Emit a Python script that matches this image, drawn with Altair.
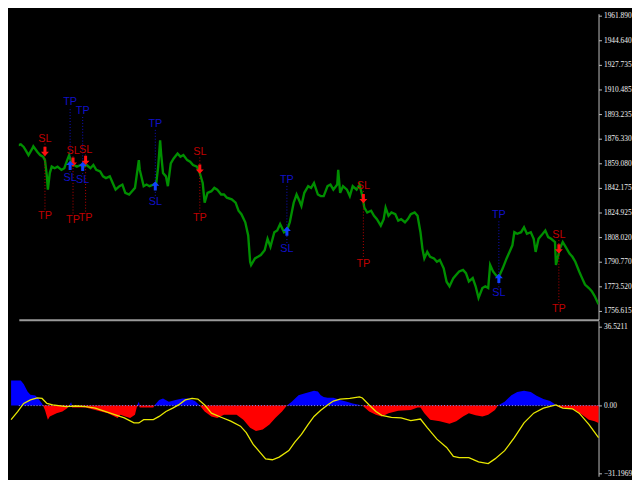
import altair as alt
import pandas as pd

# ---------------- price series (bar index, close) ----------------
bar_x = [0, 3, 7, 10, 13, 15, 18, 22, 23, 27, 30, 33, 35, 37, 38, 40, 42, 45, 48, 52,
         55, 58, 60, 62, 65, 68, 72, 75, 78, 82, 85, 88, 92, 95, 98, 102, 105, 108, 112, 115,
         118, 122, 125, 128, 132, 133, 137, 140, 143, 147, 150, 152, 154, 155, 157, 160, 162, 165, 168, 172,
         175, 178, 182, 185, 188, 192, 195, 198, 200, 203, 207, 210, 213, 217, 220, 223, 228, 232, 235, 238,
         242, 245, 247, 248, 252, 255, 258, 262, 265, 268, 272, 275, 278, 282, 285, 288, 292, 295, 298, 300,
         303, 307, 310, 313, 317, 320, 323, 327, 330, 333, 337, 338, 340, 343, 347, 350, 353, 357, 360, 363,
         365, 368, 372, 375, 378, 382, 385, 387, 390, 393, 397, 400, 403, 407, 410, 413, 417, 420, 423, 425,
         427, 430, 433, 437, 440, 443, 447, 450, 453, 457, 460, 463, 467, 470, 473, 477, 480, 483, 487, 490,
         493, 495, 498, 502, 505, 508, 512, 515, 518, 520, 523, 527, 530, 533, 537, 540, 542, 545, 548, 552,
         555, 558, 562, 563, 567, 570, 573, 577, 580, 583, 587, 590, 593, 597, 600, 603, 607]
price = [1870.7, 1869.6, 1871.8, 1872.5, 1870.7, 1868.4, 1865.0, 1869.6, 1871.1, 1867.3,
         1865.0, 1863.9, 1861.5, 1850.2, 1841.0, 1852.5, 1857.0, 1855.9, 1857.0, 1854.7,
         1855.9, 1861.5, 1865.0, 1860.4, 1858.1, 1857.0, 1858.1, 1857.0, 1858.1, 1855.9,
         1858.1, 1854.7, 1853.6, 1850.2, 1849.0, 1850.2, 1845.6, 1841.0, 1843.4, 1844.5,
         1838.8, 1837.6, 1839.9, 1842.2, 1861.5, 1854.7, 1843.4, 1844.5, 1843.4, 1844.5,
         1845.6, 1857.0, 1875.2, 1866.1, 1852.5, 1850.2, 1843.4, 1859.3, 1862.7, 1866.1,
         1863.9, 1865.0, 1861.5, 1860.4, 1858.1, 1857.0, 1852.5, 1845.6, 1831.9, 1838.8,
         1839.9, 1842.2, 1841.0, 1837.6, 1837.6, 1835.4, 1834.2, 1831.9, 1826.3, 1823.9,
         1818.3, 1809.2, 1790.9, 1788.6, 1793.2, 1794.3, 1795.5, 1798.9, 1806.8, 1801.2,
         1811.4, 1812.6, 1817.1, 1811.4, 1812.6, 1818.3, 1831.9, 1837.6, 1833.1, 1829.7,
         1838.8, 1843.4, 1842.2, 1845.6, 1837.6, 1836.5, 1836.5, 1843.4, 1844.5, 1841.0,
         1844.5, 1854.7, 1838.8, 1843.4, 1841.0, 1836.5, 1843.4, 1841.0, 1844.5, 1836.5,
         1828.5, 1825.1, 1826.3, 1822.8, 1820.5, 1816.0, 1820.5, 1828.5, 1822.8, 1825.1,
         1823.9, 1819.4, 1820.5, 1818.3, 1820.5, 1823.9, 1825.1, 1822.8, 1811.4, 1800.0,
         1793.2, 1797.7, 1794.3, 1793.2, 1790.9, 1792.1, 1786.3, 1777.0, 1773.8, 1779.5,
         1781.8, 1784.1, 1785.2, 1782.9, 1777.2, 1779.5, 1773.8, 1765.8, 1772.6, 1773.8,
         1772.6, 1788.6, 1784.1, 1780.6, 1781.8, 1786.3, 1793.2, 1797.7, 1802.3, 1811.4,
         1810.3, 1811.4, 1814.8, 1810.3, 1811.4, 1806.8, 1797.7, 1806.8, 1809.2, 1812.6,
         1808.0, 1806.8, 1804.6, 1788.6, 1800.0, 1804.6, 1801.2, 1796.6, 1794.3, 1790.9,
         1784.1, 1779.5, 1775.0, 1772.6, 1770.4, 1767.0, 1761.3]

price_ticks = [1961.890, 1944.640, 1927.735, 1910.485, 1893.235, 1876.330, 1859.080,
               1842.175, 1824.925, 1808.020, 1790.770, 1773.520, 1756.615]

# ---------------- trade signals ----------------
sig_x = [35, 61, 64, 74, 77, 149, 195, 285, 364, 504, 566]
sig_dir = ["sell", "buy", "sell", "buy", "sell", "buy", "sell", "buy", "sell", "buy", "sell"]
sig_arrow = [1867.5, 1857.9, 1860.0, 1857.2, 1861.3, 1843.6, 1855.2, 1812.1, 1834.7, 1779.3, 1799.8]
sig_sl = [1873.0, 1853.1, 1864.1, 1851.8, 1865.4, 1836.7, 1863.4, 1803.9, 1840.1, 1773.1, 1805.9]
sig_tp = [1826.5, 1898.3, 1823.7, 1892.1, 1825.1, 1883.2, 1825.1, 1844.2, 1793.6, 1819.6, 1762.2]

# ---------------- oscillator ----------------
hist_x = [0, 10, 13, 17, 20, 25, 28, 32, 33, 35, 38, 40, 47, 53, 58, 60, 62, 63, 77, 80,
          87, 93, 100, 107, 110, 113, 118, 123, 128, 130, 132, 133, 147, 148, 153, 157, 163, 170, 177, 183,
          190, 195, 200, 207, 213, 220, 233, 240, 247, 253, 260, 267, 273, 280, 285, 290, 297, 303, 313, 317,
          320, 323, 327, 333, 340, 347, 353, 363, 370, 377, 383, 390, 400, 413, 420, 423, 427, 433, 443, 453,
          460, 467, 473, 480, 487, 493, 500, 503, 510, 517, 523, 530, 537, 543, 550, 557, 562, 563, 567, 577,
          583, 590, 597, 603, 607]
hist_v = [11.6, 11.6, 10.0, 6.5, 5.0, 4.7, 3.3, 1.0, 0.0, -2.0, -6.5, -5.0, -3.5, -2.7, -1.2, 0.0, 1.5, -0.9, -0.9, -1.2,
          -2.0, -2.7, -3.5, -5.0, -5.7, -4.2, -5.0, -5.7, -4.2, -0.5, 1.8, -0.9, -0.9, 0.0, 2.6, 3.3, 1.8, 2.6, 3.3, 3.3,
          2.1, 0.0, -2.7, -5.0, -5.7, -4.2, -4.2, -6.5, -10.2, -11.7, -11.0, -8.7, -5.7, -2.7, 0.0, 1.8, 4.8, 5.6, 6.8, 6.5,
          4.8, 4.0, 3.6, 3.6, 2.6, 1.8, 1.0, 0.0, -2.7, -4.2, -5.0, -3.5, -2.4, -2.0, -0.9, -0.9, -3.5, -6.5, -7.2, -8.4,
          -7.2, -5.0, -3.5, -4.5, -5.0, -4.2, -2.0, 0.0, 1.8, 4.8, 6.3, 6.9, 6.3, 4.5, 3.0, 2.1, 0.6, 0.0, -0.9, -1.2,
          -2.0, -4.2, -6.5, -7.2, -8.0]

sig_line_x = [0, 7, 13, 20, 27, 32, 37, 43, 57, 67, 77, 87, 97, 107, 117, 127, 132, 137, 147, 153,
              160, 167, 173, 180, 187, 193, 200, 207, 217, 227, 237, 243, 250, 257, 263, 270, 277, 287, 293, 300,
              307, 313, 320, 327, 333, 340, 350, 360, 363, 370, 377, 383, 393, 403, 413, 423, 430, 440, 450, 457,
              463, 473, 483, 493, 500, 510, 520, 530, 540, 550, 560, 563, 570, 580, 587, 597, 607]
sig_line_v = [-6.5, -2.7, 1.0, 2.6, 3.6, 3.3, 1.0, 0.3, -0.5, -0.2, -0.5, -1.2, -2.7, -4.2, -5.7, -8.0, -8.0, -6.5, -6.5, -5.0,
              -2.7, -1.2, 0.3, 2.6, 3.3, 3.0, 0.3, -3.5, -5.4, -7.2, -9.5, -12.5, -17.8, -21.5, -24.6, -25.0, -23.8, -20.8, -17.0, -13.3,
              -8.7, -5.0, -2.2, 0.3, 2.1, 3.0, 3.3, 4.0, 3.5, 0.3, -2.7, -4.5, -5.4, -5.7, -6.9, -6.2, -10.2, -15.5, -19.3, -23.5,
              -24.0, -24.0, -26.0, -26.8, -24.6, -20.8, -14.8, -8.0, -3.5, -1.2, 0.0, 0.3, -1.2, -1.5, -3.5, -8.7, -14.8]
osc_ticks = [36.5211, 0.0, -31.1969]

# ---------------- styling ----------------
AX = "#c0c0c0"
LBL = "#f0f0f0"
XDOM = [8, 607]
W = 589

price_df = pd.DataFrame({"bar": bar_x, "price": price})
sig_df = pd.DataFrame({"bar": sig_x, "dir": sig_dir, "arrow": sig_arrow, "sl": sig_sl, "tp": sig_tp})
hist_df = pd.DataFrame({"bar": hist_x, "v": hist_v})
line_df = pd.DataFrame({"bar": sig_line_x, "v": sig_line_v})

xs = alt.Scale(domain=XDOM, nice=False, zero=False)
x_axis_top = alt.Axis(orient="bottom", labels=False, ticks=False, grid=False, title=None,
                      domainColor="#9a9a9a", domainWidth=2)
ys_top = alt.Scale(domain=[1750.53, 1963.26], nice=False, zero=False)
y_axis_top = alt.Axis(orient="right", values=price_ticks, format=".3f", grid=False, title=None,
                      labelColor=LBL, labelFont="Liberation Serif", labelFontSize=7.5, labelPadding=2,
                      labelOverlap=False, labelFlush=False,
                      tickColor=AX, tickSize=3, domainColor=AX)


def X():
    return alt.X("bar:Q", scale=xs, axis=x_axis_top)


def Y(field):
    return alt.Y(field, scale=ys_top, axis=y_axis_top)


line = alt.Chart(price_df).mark_line(color="#008f00", strokeWidth=2.4, clip=True).encode(
    x=X(), y=Y("price:Q"))

sig = alt.Chart(sig_df)
RED_T = "#c00000"
BLUE_T = "#1010c8"
rules = sig.mark_rule(strokeDash=[1, 2], strokeWidth=1).encode(
    x=X(), y=Y("sl:Q"), y2="tp:Q",
    color=alt.Color("dir:N", scale=alt.Scale(domain=["sell", "buy"], range=[RED_T, BLUE_T]), legend=None))

UP = "M0,-1L0.85,-0.05L0.32,-0.05L0.32,1L-0.32,1L-0.32,-0.05L-0.85,-0.05Z"
DOWN = "M0,1L0.85,0.05L0.32,0.05L0.32,-1L-0.32,-1L-0.32,0.05L-0.85,0.05Z"
arr_sell = sig.transform_filter("datum.dir == 'sell'").mark_point(
    shape=DOWN, filled=True, size=90, color="#ff1010", opacity=1).encode(x=X(), y=Y("arrow:Q"))
arr_buy = sig.transform_filter("datum.dir == 'buy'").mark_point(
    shape=UP, filled=True, size=90, color="#1040ff", opacity=1).encode(x=X(), y=Y("arrow:Q"))

TF = dict(font="Liberation Sans", fontSize=11)
sell_sl = sig.transform_filter("datum.dir == 'sell'").mark_text(
    text="SL", baseline="bottom", color=RED_T, **TF).encode(x=X(), y=Y("sl:Q"))
sell_tp = sig.transform_filter("datum.dir == 'sell'").mark_text(
    text="TP", baseline="top", color=RED_T, **TF).encode(x=X(), y=Y("tp:Q"))
buy_sl = sig.transform_filter("datum.dir == 'buy'").mark_text(
    text="SL", baseline="top", color=BLUE_T, **TF).encode(x=X(), y=Y("sl:Q"))
buy_tp = sig.transform_filter("datum.dir == 'buy'").mark_text(
    text="TP", baseline="bottom", color=BLUE_T, **TF).encode(x=X(), y=Y("tp:Q"))

top = alt.layer(line, rules, arr_sell, arr_buy, sell_sl, sell_tp, buy_sl, buy_tp).properties(
    width=W, height=311)

# ---------------- oscillator panel ----------------
ys_bot = alt.Scale(domain=[-32.64, 39.15], nice=False, zero=False)
y_axis_bot = alt.Axis(orient="right", values=osc_ticks, grid=False, title=None,
                      labelExpr="datum.value == 0 ? '0.00' : format(datum.value, '.4f')",
                      labelColor=LBL, labelFont="Liberation Serif", labelFontSize=7.5, labelPadding=2,
                      labelOverlap=False, labelFlush=False,
                      tickColor=AX, tickSize=3, domainColor=AX)
x_bot = alt.X("bar:Q", scale=xs, axis=None)


def YB(field):
    return alt.Y(field, scale=ys_bot, axis=y_axis_bot)


hb = alt.Chart(hist_df)
pos = hb.transform_calculate(p="max(datum.v, 0)").mark_area(color="#0000ff", opacity=1).encode(
    x=x_bot, y=YB("p:Q"), y2=alt.datum(0))
neg = hb.transform_calculate(n="min(datum.v, 0)").mark_area(color="#ff0000", opacity=1).encode(
    x=x_bot, y=YB("n:Q"), y2=alt.datum(0))
zero = alt.Chart(pd.DataFrame({"z": [0.0]})).mark_rule(
    color="#9090ff", strokeDash=[1, 2], strokeWidth=1).encode(y=YB("z:Q"))
yline = alt.Chart(line_df).mark_line(color="#e8e800", strokeWidth=1.3).encode(
    x=x_bot, y=YB("v:Q"))

bottom = alt.layer(pos, neg, zero, yline).properties(width=W, height=158)

chart = alt.vconcat(top, bottom, spacing=1).properties(
    background="#000000", padding=0
).configure_view(stroke=None).configure_concat(spacing=1).configure_axis(labelOverlap=False)

chart.save("out.html", embed_options={"renderer": "svg", "actions": False})
